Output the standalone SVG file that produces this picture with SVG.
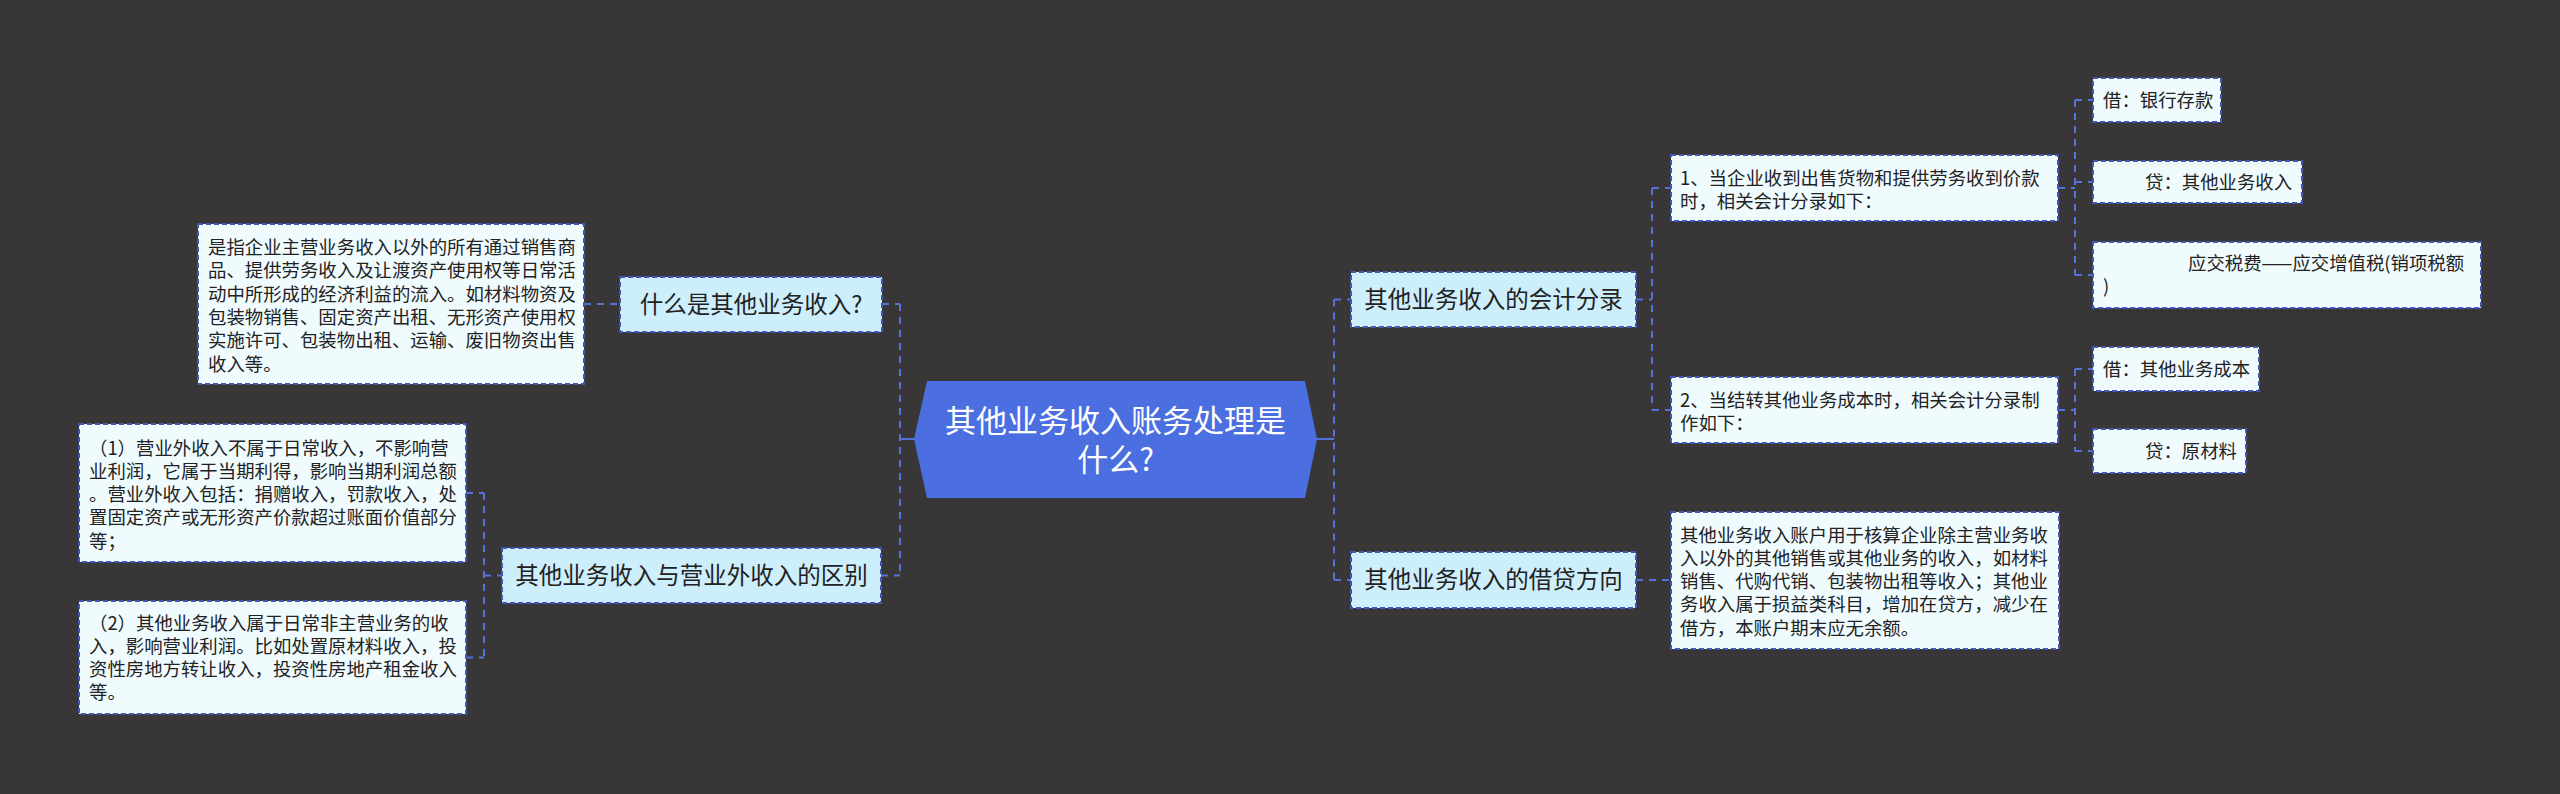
<svg xmlns="http://www.w3.org/2000/svg" width="2560" height="794" viewBox="0 0 2560 794">
<style>
  .bg { fill: #383637; }
  .conn { stroke: #5472d9; stroke-width: 2; fill: none; stroke-dasharray: 7 6; }
  .solid { stroke: #5472d9; stroke-width: 2; fill: none; }
  .l1 { fill: #cdeefb; stroke: #4157b8; stroke-width: 2; stroke-dasharray: 5 3; }
  .leaf { fill: #f0fbfe; stroke: #4157b8; stroke-width: 2; stroke-dasharray: 5 3; }
  .root { fill: #4b6fe0; }
  text { font-family: "Noto Sans CJK SC", "Noto Sans", sans-serif; fill: #222222; }
  .t-root { font-size: 31px; fill: #ffffff; text-anchor: middle; }
  .t-l1 { font-size: 23.5px; text-anchor: middle; }
  .t-leaf { font-size: 18.4px; }
</style>
<rect class="bg" x="0" y="0" width="2560" height="794"/>

<g id="connectors">
  <line class="solid" x1="900" y1="439" x2="915" y2="439"/>
  <line class="conn" x1="900" y1="304" x2="900" y2="575.5"/>
  <line class="conn" x1="882" y1="304" x2="900" y2="304"/>
  <line class="conn" x1="881" y1="575.5" x2="900" y2="575.5"/>
  <line class="conn" x1="584" y1="304" x2="620" y2="304"/>
  <line class="conn" x1="484" y1="575.5" x2="502" y2="575.5"/>
  <line class="conn" x1="484" y1="493" x2="484" y2="657.5"/>
  <line class="conn" x1="466" y1="493" x2="484" y2="493"/>
  <line class="conn" x1="466" y1="657.5" x2="484" y2="657.5"/>

  <line class="solid" x1="1316" y1="439" x2="1334" y2="439"/>
  <line class="conn" x1="1334" y1="299.5" x2="1334" y2="580"/>
  <line class="conn" x1="1334" y1="299.5" x2="1351" y2="299.5"/>
  <line class="conn" x1="1334" y1="580" x2="1351" y2="580"/>
  <line class="conn" x1="1636" y1="299.5" x2="1652" y2="299.5"/>
  <line class="conn" x1="1652" y1="188" x2="1652" y2="410"/>
  <line class="conn" x1="1652" y1="188" x2="1671" y2="188"/>
  <line class="conn" x1="1652" y1="410" x2="1671" y2="410"/>
  <line class="conn" x1="1636" y1="580" x2="1671" y2="580"/>

  <line class="conn" x1="2058" y1="188" x2="2075" y2="188"/>
  <line class="conn" x1="2075" y1="100" x2="2075" y2="275"/>
  <line class="conn" x1="2075" y1="100" x2="2093" y2="100"/>
  <line class="conn" x1="2075" y1="182" x2="2093" y2="182"/>
  <line class="conn" x1="2075" y1="275" x2="2093" y2="275"/>
  <line class="conn" x1="2058" y1="410" x2="2075" y2="410"/>
  <line class="conn" x1="2075" y1="369" x2="2075" y2="451"/>
  <line class="conn" x1="2075" y1="369" x2="2093" y2="369"/>
  <line class="conn" x1="2075" y1="451" x2="2093" y2="451"/>
</g>

<g id="root">
  <polygon class="root" points="914,439 927,381 1305,381 1317,439 1305,498 927,498"/>
  <text class="t-root" x="1115.5" y="432"><tspan x="1115.5" y="432">其他业务收入账务处理是</tspan><tspan x="1115.5" y="471">什么?</tspan></text>
</g>

<g id="n-what">
  <rect class="l1" x="620" y="277" width="262" height="55"/>
  <text class="t-l1" x="751" y="312.5">什么是其他业务收入?</text>
</g>
<g id="n-what-desc">
  <rect class="leaf" x="198" y="224" width="386" height="160"/>
  <text class="t-leaf" x="208" y="254">是指企业主营业务收入以外的所有通过销售商</text>
  <text class="t-leaf" x="208" y="277.3">品、提供劳务收入及让渡资产使用权等日常活</text>
  <text class="t-leaf" x="208" y="300.6">动中所形成的经济利益的流入。如材料物资及</text>
  <text class="t-leaf" x="208" y="323.9">包装物销售、固定资产出租、无形资产使用权</text>
  <text class="t-leaf" x="208" y="347.2">实施许可、包装物出租、运输、废旧物资出售</text>
  <text class="t-leaf" x="208" y="370.5">收入等。</text>
</g>

<g id="n-diff">
  <rect class="l1" x="502" y="548" width="379" height="55"/>
  <text class="t-l1" x="691.5" y="583.5">其他业务收入与营业外收入的区别</text>
</g>
<g id="n-diff-1">
  <rect class="leaf" x="79" y="424" width="387" height="138"/>
  <text class="t-leaf" x="89" y="454.5">（1）营业外收入不属于日常收入，不影响营</text>
  <text class="t-leaf" x="89" y="477.8">业利润，它属于当期利得，影响当期利润总额</text>
  <text class="t-leaf" x="89" y="501.1">。营业外收入包括：捐赠收入，罚款收入，处</text>
  <text class="t-leaf" x="89" y="524.4">置固定资产或无形资产价款超过账面价值部分</text>
  <text class="t-leaf" x="89" y="547.7">等；</text>
</g>
<g id="n-diff-2">
  <rect class="leaf" x="79" y="601" width="387" height="113"/>
  <text class="t-leaf" x="89" y="629.5">（2）其他业务收入属于日常非主营业务的收</text>
  <text class="t-leaf" x="89" y="652.8">入，影响营业利润。比如处置原材料收入，投</text>
  <text class="t-leaf" x="89" y="676.1">资性房地方转让收入，投资性房地产租金收入</text>
  <text class="t-leaf" x="89" y="699.4">等。</text>
</g>

<g id="n-entry">
  <rect class="l1" x="1351" y="272" width="285" height="55"/>
  <text class="t-l1" x="1493.5" y="307.5">其他业务收入的会计分录</text>
</g>
<g id="n-entry-1">
  <rect class="leaf" x="1671" y="155" width="387" height="66"/>
  <text class="t-leaf" x="1680" y="184.5">1、当企业收到出售货物和提供劳务收到价款</text>
  <text class="t-leaf" x="1680" y="207.8">时，相关会计分录如下：</text>
</g>
<g id="n-entry-1a">
  <rect class="leaf" x="2093" y="78" width="128" height="44"/>
  <text class="t-leaf" x="2103" y="106.5">借：银行存款</text>
</g>
<g id="n-entry-1b">
  <rect class="leaf" x="2093" y="161" width="209" height="42"/>
  <text class="t-leaf" x="2145" y="188.5">贷：其他业务收入</text>
</g>
<g id="n-entry-1c">
  <rect class="leaf" x="2093" y="242" width="388" height="66"/>
  <text class="t-leaf" x="2188" y="270">应交税费——应交增值税(销项税额</text>
  <text class="t-leaf" x="2103" y="293.3">)</text>
</g>
<g id="n-entry-2">
  <rect class="leaf" x="1671" y="377" width="387" height="66"/>
  <text class="t-leaf" x="1680" y="406.5">2、当结转其他业务成本时，相关会计分录制</text>
  <text class="t-leaf" x="1680" y="429.8">作如下：</text>
</g>
<g id="n-entry-2a">
  <rect class="leaf" x="2093" y="347" width="166" height="44"/>
  <text class="t-leaf" x="2103" y="375.5">借：其他业务成本</text>
</g>
<g id="n-entry-2b">
  <rect class="leaf" x="2093" y="429" width="153" height="44"/>
  <text class="t-leaf" x="2145" y="457.5">贷：原材料</text>
</g>

<g id="n-dir">
  <rect class="l1" x="1351" y="552" width="285" height="56"/>
  <text class="t-l1" x="1493.5" y="588">其他业务收入的借贷方向</text>
</g>
<g id="n-dir-desc">
  <rect class="leaf" x="1671" y="512" width="388" height="137"/>
  <text class="t-leaf" x="1680" y="541.5">其他业务收入账户用于核算企业除主营业务收</text>
  <text class="t-leaf" x="1680" y="564.8">入以外的其他销售或其他业务的收入，如材料</text>
  <text class="t-leaf" x="1680" y="588.1">销售、代购代销、包装物出租等收入；其他业</text>
  <text class="t-leaf" x="1680" y="611.4">务收入属于损益类科目，增加在贷方，减少在</text>
  <text class="t-leaf" x="1680" y="634.7">借方，本账户期末应无余额。</text>
</g>
</svg>
